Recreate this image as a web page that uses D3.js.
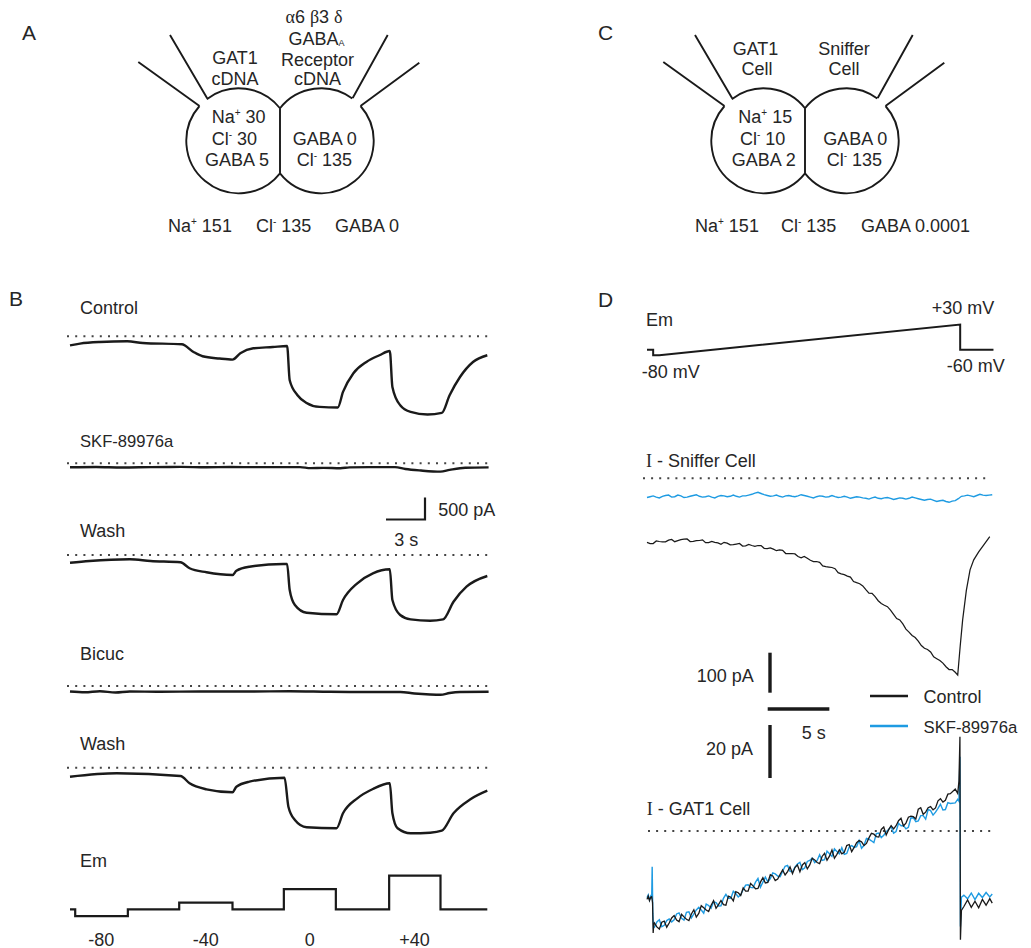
<!DOCTYPE html>
<html><head><meta charset="utf-8">
<script src="https://cdn.jsdelivr.net/npm/d3@7"></script>
<style>
body{margin:0;background:#fff}
text{font-family:"Liberation Sans",Arial,Helvetica,sans-serif;fill:#262626}
</style>
</head><body>
<svg id="fig" width="1031" height="948"></svg>
<script>
// ---------------- DATA ----------------
// Panel B: current traces, [time (s), current (pA)]
const bControl = [[0,-205],[0.77,-166],[2.3,-130],[4.4,-114],[5.6,-152],[8.6,-182],[9.5,-356],[10.2,-454],[11.5,-506],[12.5,-529],[13.1,-386],[14.1,-272],[15.6,-243],[16.7,-220],[16.9,-999],[17.5,-1340],[18.2,-1514],[19.2,-1605],[20.6,-1618],[21.0,-1264],[21.8,-840],[22.8,-583],[23.8,-431],[24.6,-334],[24.8,-1150],[25.4,-1566],[26.2,-1718],[27.5,-1777],[28.6,-1741],[29.2,-1339],[30.0,-924],[31.0,-583],[32.1,-431]];
const bSkf = [[0,-91],[2,-84],[4,-95],[6.2,-86],[8.5,-82],[10.5,-90],[12.3,-84],[14.5,-88],[17.7,-86],[18.5,-110],[19.5,-104],[20.8,-112],[21.5,-92],[23,-86],[25,-88],[25.8,-130],[27,-165],[28.5,-190],[29.2,-150],[30.4,-100],[32.2,-92]];
const bWash1 = [[0,-175],[1.5,-136],[4.6,-98],[6.2,-136],[8.5,-166],[9.2,-302],[10.5,-393],[12.5,-455],[12.8,-357],[13.8,-266],[16.4,-205],[16.7,-205],[16.9,-796],[17.3,-1137],[18.2,-1312],[20.5,-1348],[21.0,-1023],[22.1,-643],[23.3,-416],[24.6,-325],[24.8,-1023],[25.4,-1364],[26.2,-1462],[27.7,-1493],[28.7,-1462],[29.5,-1062],[30.5,-721],[32.1,-477]];
const bBicuc = [[0,-125],[1.15,-143],[2.3,-120],[3.5,-148],[4.6,-125],[6.9,-132],[10,-125],[13.8,-125],[16.9,-120],[20,-132],[22.3,-136],[25.4,-136],[26.5,-170],[27.7,-193],[28.5,-200],[29.2,-159],[30,-136],[32.2,-132]];
const bWash2 = [[0,-205],[3.6,-127],[8.5,-189],[9.2,-355],[10.5,-491],[12.5,-559],[12.8,-432],[13.8,-318],[16.5,-227],[16.8,-886],[17.3,-1189],[18.2,-1355],[20.5,-1377],[21.0,-1036],[22.1,-696],[23.3,-484],[24.6,-355],[24.8,-1036],[25.2,-1377],[26.2,-1491],[27.7,-1477],[28.6,-1432],[29.5,-1036],[30.8,-718],[32.1,-523]];
const bTraceNames = ["Control","SKF-89976a","Wash","Bicuc","Wash"];
// Panel B: voltage protocol [time (s), Em (mV)]
const bEm = [[0,-60],[0.4,-80],[4.45,-60],[8.4,-40],[12.5,-60],[16.45,0],[20.45,-60],[24.55,40],[28.5,-60],[32.1,-60]];
const bEmTickLabels = ["-80","-40","0","+40"];
const bEmTickTimes = [2.4,10.45,18.45,26.5];

// Panel D: voltage ramp [time (s), Em (mV)]
const dEm = [[0,-60],[0.5,-60],[0.5,-80],[1.0,-80],[25.4,30],[25.4,-60],[28.1,-60]];
// Panel D: sniffer cell current (pA), sampled every 0.25 s from t = 0
const snifDt = 0.25;
const snifControl = [-160,-163,-163,-156.5,-158,-159,-159,-154.5,-153,-158.5,-156,-153.5,-152,-151.5,-158,-157.5,-156,-155.5,-154,-161,-161,-158,-160,-161.5,-165,-160,-162,-166.5,-166,-164.5,-163,-169.5,-169,-165.5,-168,-170,-168,-168,-175,-175.5,-174,-177,-181,-179,-180,-188,-188,-188,-189,-195.5,-199,-195.5,-200,-205,-208,-208,-210,-219,-221,-222,-223,-226,-236,-239,-241,-244.5,-247,-258,-261,-263.5,-269,-278.5,-287,-287.5,-296,-306,-313,-317.5,-321,-329.5,-340,-350.5,-354,-364,-377,-384.5,-393,-398,-407,-418,-425,-428,-434,-446.5,-451,-455.5,-462,-471,-478,-478,-485];
const snifControlEnd = [[25.2,-492],[25.4,-420],[25.6,-354],[25.9,-280],[26.2,-229],[26.5,-204],[26.9,-184],[27.3,-167],[27.8,-146]];
const snifSkf = [-48,-46,-44,-47,-49,-45,-43,-42,-47,-46,-42,-44,-48,-47,-45,-43,-41,-45,-47,-46,-44,-47,-49,-45,-43,-44,-46,-45,-42,-45,-47,-44,-44,-42,-40,-37,-35,-38,-41,-43,-45,-44,-42,-45,-47,-44,-43,-45,-46,-44,-41,-43,-45,-47,-49,-46,-44,-45,-47,-46,-43,-46,-48,-47,-45,-47,-50,-48,-46,-47,-49,-50,-52,-49,-47,-50,-51,-49,-48,-50,-53,-51,-49,-50,-52,-50,-47,-49,-51,-53,-55,-53,-52,-55,-58,-56,-55,-58,-60,-57,-56,-51,-45,-44,-42,-44,-46,-43,-40,-42,-43,-42,-41];
// Panel D: GAT1 cell current (pA); ramp part sampled every 0.2 s from t = 0.6
const gatT0 = 0.6, gatDt = 0.2;
const gatControlStart = [[0,-25.8],[0.1,-24.6],[0.2,-26.3],[0.3,-25],[0.38,-24.8],[0.45,-27],[0.5,-38.5],[0.55,-35.2]];
const gatControl = [-34.7,-36.2,-37.0,-34.4,-34.0,-36.3,-34.7,-32.8,-31.9,-33.6,-34.2,-31.4,-32.4,-33.3,-33.8,-31.3,-29.7,-32.5,-31.1,-28.2,-29.0,-29.8,-30.4,-28.0,-26.3,-29.2,-27.8,-26.2,-27.8,-28.0,-24.6,-25.0,-26.4,-22.9,-23.3,-24.3,-21.5,-22.7,-22.7,-19.8,-20.7,-21.8,-21.7,-19.3,-17.6,-19.6,-19.4,-16.5,-17.0,-18.7,-18.1,-16.3,-14.7,-16.6,-15.3,-13.5,-16.1,-13.8,-12.8,-15.4,-12.8,-11.9,-14.3,-12.8,-10.3,-10.9,-11.9,-12.3,-9.6,-8.4,-11.0,-9.5,-7.2,-10.3,-8.8,-7.1,-8.6,-8.0,-5.5,-5.1,-7.8,-6.2,-4.4,-3.6,-4.1,-5.5,-4.7,-2.6,-0.9,-1.2,-2.1,-2.3,0.6,1.5,-1.5,0.5,2.0,0.8,2.0,3.9,4.8,1.9,3.0,5.2,5.6,5.4,4.5,8.2,8.8,6.3,7.1,8.8,9.2,8.0,8.7,11.4,12.2,10.9,11.6,13.9,14.1];
const gatControlEnd = [[25.0,15.8],[25.2,14.2],[25.3,18.8],[25.38,35.6],[25.42,-41],[25.5,-30],[25.7,-28.5],[26.0,-26],[26.3,-28.8],[26.6,-26.5],[26.9,-29],[27.2,-25.8],[27.5,-28],[27.8,-25.5],[28.0,-27.2]];
const gatSkfStart = [[0,-25.2],[0.1,-24.1],[0.2,-26],[0.3,-24.6],[0.38,-25.5],[0.42,-13.5],[0.47,-31],[0.53,-36.5]];
const gatSkf = [-36.3,-34.3,-33.5,-36.1,-35.6,-33.8,-33.2,-34.3,-33.5,-31.3,-30.9,-32.9,-33.6,-30.7,-30.5,-32.8,-31.3,-29.8,-28.8,-29.8,-31.0,-27.6,-28.1,-29.1,-26.7,-27.0,-28.3,-28.2,-25.4,-23.9,-25.4,-25.4,-22.7,-23.6,-24.9,-24.1,-22.1,-20.4,-20.3,-21.3,-21.4,-19.3,-17.9,-21.2,-19.3,-17.4,-19.2,-18.0,-15.8,-16.2,-17.0,-17.2,-15.2,-13.3,-13.0,-15.2,-15.4,-13.6,-12.5,-11.8,-14.6,-13.9,-11.5,-11.1,-10.2,-11.9,-11.1,-9.0,-11.1,-10.8,-7.6,-8.6,-9.6,-6.7,-7.7,-8.6,-6.3,-8.8,-8.5,-6.0,-5.5,-6.2,-5.9,-3.6,-6.5,-5.4,-2.8,-3.1,-3.7,-4.4,-1.0,-0.8,-2.5,-1.6,-0.3,0.6,1.7,-0.8,-0.2,2.9,2.0,2.1,0.8,1.4,4.9,5.0,3.5,3.8,5.8,5.8,4.5,8.1,7.7,6.0,7.1,8.5,10.1,7.9,8.1,10.7,10.4];
const gatSkfEnd = [[25.0,10.6],[25.2,12.0],[25.3,11.2],[25.38,28],[25.42,-36],[25.5,-25],[25.7,-24.2],[26.0,-25.6],[26.3,-23.4],[26.6,-25.9],[26.9,-23.5],[27.2,-25.1],[27.5,-23.2],[27.8,-24.9],[28.0,-23.8]];
const legendNames = ["Control","SKF-89976a"];

// Diagram texts (markup: ^x superscript, _x subscript, ~x serif glyph)
const aTexts = [
  ["~α6 ~β3 ~δ",314,23,"middle"],["GABA_A",316.5,44.6,"middle"],["Receptor",317.5,65.5,"middle"],["cDNA",317.5,84.6,"middle"],
  ["GAT1",235,64,"middle"],["cDNA",235,84.5,"middle"],
  ["Na^+ 30",211.7,123,"start"],["Cl^- 30",211.7,144.7,"start"],["GABA 5",205,166.3,"start"],
  ["GABA 0",292.7,144.7,"start"],["Cl^- 135",296.7,166.3,"start"],
  ["Na^+ 151",168,231.5,"start"],["Cl^- 135",256,231.5,"start"],["GABA 0",335,231.5,"start"]];
const cTexts = [
  ["GAT1",755.5,54.6,"middle"],["Cell",757,74.6,"middle"],["Sniffer",844,54.6,"middle"],["Cell",844,74.6,"middle"],
  ["Na^+ 15",738.3,123,"start"],["Cl^- 10",740,144.7,"start"],["GABA 2",731.7,166.3,"start"],
  ["GABA 0",823.3,144.7,"start"],["Cl^- 135",826.7,166.3,"start"],
  ["Na^+ 151",695,231.5,"start"],["Cl^- 135",781,231.5,"start"],["GABA 0.0001",861,231.5,"start"]];

// ---------------- DRAW ----------------
const svg = d3.select("#fig");
const SERIF = '"Liberation Serif","Times New Roman",serif';
const INK = "#1a1a1a";

function label(x, y, s, anchor = "start", size = 18) {
  const t = svg.append("text").attr("x", x).attr("y", y).attr("text-anchor", anchor).style("font-size", size + "px");
  let shift = 0, buf = "";
  const flush = () => { if (buf) { const ts = t.append("tspan").text(buf); if (shift) ts.attr("dy", -shift); shift = 0; buf = ""; } };
  for (let i = 0; i < s.length; i++) {
    const c = s[i];
    if (c === "^" || c === "_" || c === "~") {
      flush();
      const ch = s[++i];
      const ts = t.append("tspan").text(ch);
      if (c === "^") { ts.attr("dy", -7 - shift).style("font-size", "10px"); shift = -7; }
      else if (c === "_") { ts.attr("dy", 1 - shift).style("font-size", "9px"); shift = 1; }
      else { if (shift) ts.attr("dy", -shift); shift = 0; ts.style("font-family", SERIF); }
    } else buf += c;
  }
  flush();
  return t;
}

// Panel letters
[["A",22,40],["B",9,306],["C",598,40],["D",598,307]].forEach(([s,x,y]) => label(x,y,s,"start",21));

// Cell pair diagrams
function cellPair(cx, cy) {
  const r = 52.5, half = 41.2;
  const lx = cx - half, rx = cx + half;
  const chordH = Math.sqrt(r*r - half*half);
  const tips = { lo:[-80.5,-34.8], li:[-73,-42.8], ri:[72.7,-42.8], ro:[80.5,-34.8] };
  const ends = { lo:[-141.7,-78.8], li:[-110,-105.8], ri:[107.7,-105.8], ro:[139.3,-78.1] };
  const ang = (px, py, ccx) => Math.atan2(py, px - (ccx - cx));
  const p = d3.path();
  const aLI = ang(tips.li[0], tips.li[1], lx), aLO = ang(tips.lo[0], tips.lo[1], lx);
  const aLT = Math.atan2(-chordH, half), aLB = Math.atan2(chordH, half);
  p.moveTo(cx + tips.li[0], cy + tips.li[1]);
  p.arc(lx, cy, r, aLI, aLT, false);
  p.lineTo(cx, cy + chordH);
  p.arc(lx, cy, r, aLB, aLO, false);
  const aRI = ang(tips.ri[0], tips.ri[1], rx), aRO = ang(tips.ro[0], tips.ro[1], rx);
  const aRT = Math.atan2(-chordH, -half), aRB = Math.atan2(chordH, -half);
  p.moveTo(rx + r*Math.cos(aRT), cy + r*Math.sin(aRT));
  p.arc(rx, cy, r, aRT, aRI, false);
  p.moveTo(rx + r*Math.cos(aRO), cy + r*Math.sin(aRO));
  p.arc(rx, cy, r, aRO, aRB, false);
  ["lo","li","ri","ro"].forEach(k => { p.moveTo(cx + tips[k][0], cy + tips[k][1]); p.lineTo(cx + ends[k][0], cy + ends[k][1]); });
  svg.append("path").attr("d", p.toString()).attr("fill","none").attr("stroke", INK).attr("stroke-width", 1.9);
}
cellPair(280, 140.8);
cellPair(805, 140.8);
aTexts.forEach(([s,x,y,a]) => label(x,y,s,a));
cTexts.forEach(([s,x,y,a]) => label(x,y,s,a));

// ---------- Panel B ----------
const xB = d3.scaleLinear().domain([0, 32.2]).range([70, 70 + 32.2*13]);
const offB = d3.scaleLinear().domain([0, -2000]).range([0, 88]);
const bTraces = [bControl, bSkf, bWash1, bBicuc, bWash2];
const bZeroY = [336.3, 463.3, 555, 686, 767.7];
const bLabelY = [313.6, 447, 537.2, 660.2, 750.2];
bTraces.forEach((tr, i) => {
  const y0 = bZeroY[i];
  svg.append("line").attr("x1", 67).attr("x2", 489).attr("y1", y0).attr("y2", y0)
    .attr("stroke", "#444").attr("stroke-width", 2).attr("stroke-dasharray", "2 6.2");
  const line = d3.line().x(d => xB(d[0])).y(d => y0 + offB(d[1])).curve(d3.curveMonotoneX);
  svg.append("path").attr("d", line(tr)).attr("fill","none").attr("stroke", INK).attr("stroke-width", 2.4).attr("stroke-linejoin","round");
  const nm = bTraceNames[i];
  label(80, bLabelY[i], nm, "start", nm.startsWith("SKF") ? 16.6 : 18);
});
// B scale bar: 500 pA, 3 s
{
  const cx = 425, cy = 519.5;
  const w = xB(3) - xB(0), h = offB(-500);
  svg.append("path").attr("d", `M${cx - w},${cy}H${cx}V${cy - h}`).attr("fill","none").attr("stroke", INK).attr("stroke-width", 2.2);
  label(438.3, 515.6, "500 pA");
  label(394.3, 546.2, "3 s");
}
// B Em protocol
const yEmB = d3.scaleLinear().domain([-60, 40]).range([909.3, 875.6]);
svg.append("path").attr("d", d3.line().x(d => xB(d[0])).y(d => yEmB(d[1])).curve(d3.curveStepAfter)(bEm))
  .attr("fill","none").attr("stroke", INK).attr("stroke-width", 2.2);
label(80, 867, "Em");
bEmTickLabels.forEach((s, i) => label(xB(bEmTickTimes[i]), 945.5, s, "middle"));

// ---------- Panel D ----------
const xD = d3.scaleLinear().domain([0, 28]).range([647, 647 + 28*12.33]);
const yEmD = d3.scaleLinear().domain([-60, 30]).range([349.7, 324.5]);
svg.append("path").attr("d", d3.line().x(d => xD(d[0])).y(d => yEmD(d[1]))(dEm))
  .attr("fill","none").attr("stroke", INK).attr("stroke-width", 2);
label(646, 326.2, "Em");
label(931.7, 313.6, "+30 mV");
label(641.7, 378, "-80 mV");
label(946.7, 372.2, "-60 mV");

const BLUE = "#1e9be2";
// Sniffer cell
const yS = d3.scaleLinear().domain([0, -500]).range([478.3, 678.3]);
svg.append("line").attr("x1", 643).attr("x2", 991).attr("y1", yS(0)).attr("y2", yS(0))
  .attr("stroke", "#444").attr("stroke-width", 2).attr("stroke-dasharray", "2 6.1");
label(646, 467, "~I - Sniffer Cell");
const lineS = d3.line().x(d => xD(d[0])).y(d => yS(d[1]));
const snifSkfPts = snifSkf.map((v, i) => [i * snifDt, v]);
const snifCtrlPts = snifControl.map((v, i) => [i * snifDt, v]).concat(snifControlEnd);
svg.append("path").attr("d", lineS(snifSkfPts)).attr("fill","none").attr("stroke", BLUE).attr("stroke-width", 1.4);
svg.append("path").attr("d", lineS(snifCtrlPts)).attr("fill","none").attr("stroke", INK).attr("stroke-width", 1.25);

// GAT1 cell
const yG = d3.scaleLinear().domain([0, -40]).range([831, 937]);
svg.append("line").attr("x1", 648).attr("x2", 996).attr("y1", yG(0)).attr("y2", yG(0))
  .attr("stroke", "#444").attr("stroke-width", 2).attr("stroke-dasharray", "2 6.1");
label(646.7, 814.6, "~I - GAT1 Cell");
const lineG = d3.line().x(d => xD(d[0])).y(d => yG(d[1]));
const gatSkfPts = gatSkfStart.concat(gatSkf.map((v, i) => [gatT0 + i * gatDt, v]), gatSkfEnd);
const gatCtrlPts = gatControlStart.concat(gatControl.map((v, i) => [gatT0 + i * gatDt, v]), gatControlEnd);
svg.append("path").attr("d", lineG(gatSkfPts)).attr("fill","none").attr("stroke", BLUE).attr("stroke-width", 1.4);
svg.append("path").attr("d", lineG(gatCtrlPts)).attr("fill","none").attr("stroke", INK).attr("stroke-width", 1.3);

// D scale bars: 100 pA (sniffer), 20 pA (GAT1), 5 s
{
  const bx = 770;
  const h100 = yS(-100) - yS(0), h20 = yG(-20) - yG(0), w5 = xD(5) - xD(0);
  svg.append("line").attr("x1", bx).attr("x2", bx).attr("y1", 652.7).attr("y2", 652.7 + h100).attr("stroke", INK).attr("stroke-width", 3.4);
  svg.append("line").attr("x1", 767.7).attr("x2", 767.7 + w5).attr("y1", 709).attr("y2", 709).attr("stroke", INK).attr("stroke-width", 3.4);
  svg.append("line").attr("x1", bx).attr("x2", bx).attr("y1", 725).attr("y2", 725 + h20).attr("stroke", INK).attr("stroke-width", 3.4);
  label(696.7, 682.2, "100 pA");
  label(706, 754.6, "20 pA");
  label(801.7, 738.9, "5 s");
}
// Legend
[[INK, 696], [BLUE, 726]].forEach(([c, y], i) => {
  svg.append("line").attr("x1", 870).attr("x2", 908).attr("y1", y).attr("y2", y).attr("stroke", c).attr("stroke-width", 2.4);
  label(923.5, y + 7, legendNames[i], "start", i === 1 ? 16.7 : 18);
});
</script>
</body></html>
